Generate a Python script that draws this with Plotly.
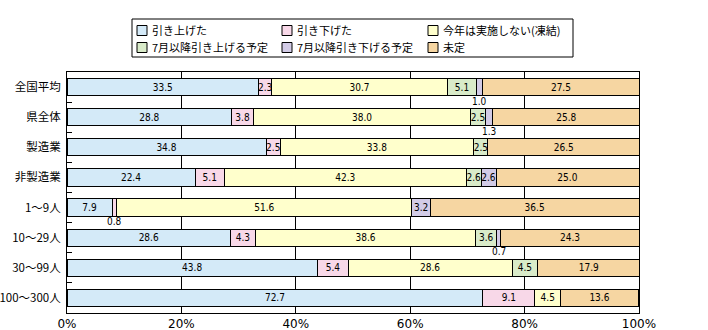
import plotly.graph_objects as go

categories = ["全国平均", "県全体", "製造業", "非製造業", "1～9人", "10～29人", "30～99人", "100～300人"]
series_names = ["引き上げた", "引き下げた", "今年は実施しない(凍結)", "7月以降引き上げる予定", "7月以降引き下げる予定", "未定"]
raised      = [33.5, 28.8, 34.8, 22.4, 7.9, 28.6, 43.8, 72.7]
lowered     = [2.3, 3.8, 2.5, 5.1, 0.8, 4.3, 5.4, 9.1]
frozen      = [30.7, 38.0, 33.8, 42.3, 51.6, 38.6, 28.6, 4.5]
plan_raise  = [5.1, 2.5, 2.5, 2.6, None, 3.6, 4.5, None]
plan_lower  = [1.0, 1.3, None, 2.6, 3.2, 0.7, None, None]
undecided   = [27.5, 25.8, 26.5, 25.0, 36.5, 24.3, 17.9, 13.6]
tick_vals = [0, 20, 40, 60, 80, 100]
tick_text = ["0%", "20%", "40%", "60%", "80%", "100%"]

colors = ["#D4EAF8", "#F8D8E8", "#FFFFCC", "#D9EBC9", "#D2CBE6", "#F6D6A2"]
series = [raised, lowered, frozen, plan_raise, plan_lower, undecided]

SMALL = 1.5  # values below this are labelled under the bar
BAR_FONT = dict(family="DejaVu Sans Condensed, DejaVu Sans", size=10, color="black")

# plot area in pixels (for placing the hand-drawn legend)
W, H = 708, 330
ML, MR, MT, MB = 67, 69, 72, 17
PW, PH = W - ML - MR, H - MT - MB


def px_x(px):
    return (px - ML) / PW


def px_y(py):
    return (H - MB - py) / PH


fig = go.Figure()
for name, vals, col in zip(series_names, series, colors):
    txt = ["" if (v is None or v < SMALL) else f"{v:.1f}" for v in vals]
    fig.add_trace(go.Bar(
        y=categories, x=vals, name=name, orientation="h",
        marker=dict(color=col, line=dict(color="black", width=1)),
        text=txt, textposition="inside", insidetextanchor="middle",
        constraintext="none", textangle=0,
        textfont=BAR_FONT,
        width=0.57, showlegend=False,
    ))

# labels for very thin segments, placed under the bar
annotations = []
for ci, cat in enumerate(categories):
    cum = 0.0
    for vals in series:
        v = vals[ci]
        if v is None:
            continue
        if v < SMALL:
            annotations.append(dict(
                x=cum + v / 2, y=cat, xref="x", yref="y", text=f"{v:.1f}",
                showarrow=False, yshift=-14, font=BAR_FONT,
            ))
        cum += v

# legend drawn by hand (box, swatches, labels)
shapes = [dict(type="rect", xref="paper", yref="paper",
               x0=px_x(132), x1=px_x(573), y0=px_y(57), y1=px_y(19),
               line=dict(color="black", width=1), fillcolor="white", layer="above")]
col_x = [137, 282, 428]
row_y = [30.5, 47.5]
for i, (name, col) in enumerate(zip(series_names, colors)):
    cx = col_x[i % 3]
    cy = row_y[i // 3]
    shapes.append(dict(type="rect", xref="paper", yref="paper",
                       x0=px_x(cx), x1=px_x(cx + 10), y0=px_y(cy + 5), y1=px_y(cy - 5),
                       line=dict(color="black", width=1), fillcolor=col, layer="above"))
    annotations.append(dict(
        x=px_x(cx + 13), y=px_y(cy), xref="paper", yref="paper",
        xanchor="left", yanchor="middle", text=name, showarrow=False,
        font=dict(family="Noto Sans CJK JP", size=11, color="black"),
    ))

fig.update_layout(
    barmode="stack",
    width=W, height=H,
    margin=dict(l=ML, r=MR, t=MT, b=MB, pad=0, autoexpand=False),
    paper_bgcolor="white", plot_bgcolor="white",
    font=dict(family="Noto Sans CJK JP", size=12, color="black"),
    annotations=annotations,
    shapes=shapes,
    showlegend=False,
    xaxis=dict(
        range=[0, 100], tickvals=tick_vals, ticktext=tick_text,
        showgrid=True, gridcolor="black", gridwidth=1,
        showline=True, linecolor="black", linewidth=1, mirror=True,
        ticks="", zeroline=False, fixedrange=True, automargin=False,
        tickfont=dict(family="DejaVu Sans", size=12),
    ),
    yaxis=dict(
        type="category", autorange=False,
        range=[len(categories) - 0.5, -0.5],
        showline=True, linecolor="black", linewidth=1, mirror=True,
        ticks="inside", tickson="boundaries", ticklen=5, tickcolor="black",
        showgrid=False, fixedrange=True, automargin=False,
        ticklabelstandoff=3,
        tickfont=dict(family="Noto Sans CJK JP", size=11.5),
    ),
)

fig.write_html("out.html")
